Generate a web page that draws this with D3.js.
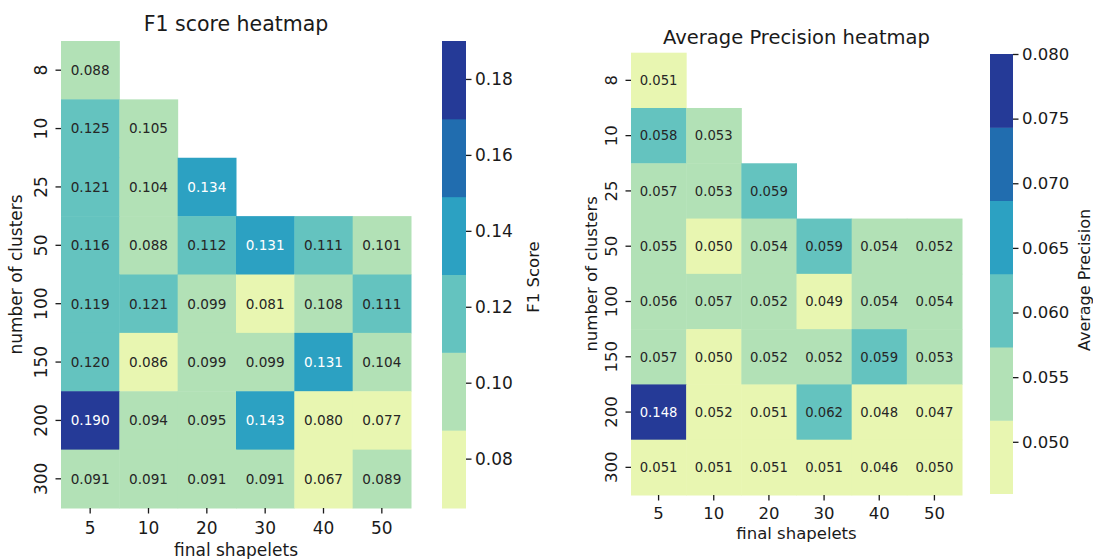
<!DOCTYPE html>
<html>
<head>
<meta charset="utf-8">
<script src="https://cdn.jsdelivr.net/npm/d3@7"></script>
<style>
  html, body { margin: 0; padding: 0; background: #fff; }
  svg { display: block; font-family: "DejaVu Sans", sans-serif; }
</style>
</head>
<body>
<svg id="chart" width="1093" height="559"></svg>
<script>
// Grid labels shared by both heatmaps
const clusterLabels = ["8", "10", "25", "50", "100", "150", "200", "300"];
const shapeletLabels = ["5", "10", "20", "30", "40", "50"];

// F1 score per (clusters, final shapelets); null = configuration not run
const f1Values = [
  [0.088, null,  null,  null,  null,  null ],
  [0.125, 0.105, null,  null,  null,  null ],
  [0.121, 0.104, 0.134, null,  null,  null ],
  [0.116, 0.088, 0.112, 0.131, 0.111, 0.101],
  [0.119, 0.121, 0.099, 0.081, 0.1078, 0.111],
  [0.120, 0.086, 0.099, 0.099, 0.131, 0.104],
  [0.190, 0.094, 0.095, 0.143, 0.080, 0.077],
  [0.091, 0.091, 0.091, 0.091, 0.067, 0.089]
];

// Average precision per (clusters, final shapelets)
const apValues = [
  [0.051, null,   null,  null,  null,  null ],
  [0.058, 0.053,  null,  null,  null,  null ],
  [0.057, 0.053,  0.059, null,  null,  null ],
  [0.055, 0.050,  0.054, 0.059, 0.054, 0.052],
  [0.056, 0.057,  0.052, 0.049, 0.054, 0.054],
  [0.057, 0.050,  0.052, 0.052, 0.059, 0.053],
  [0.148, 0.0516, 0.051, 0.062, 0.048, 0.047],
  [0.051, 0.051,  0.051, 0.051, 0.046, 0.050]
];

// Colorbar ticks
const f1Ticks = [0.08, 0.10, 0.12, 0.14, 0.16, 0.18];
const apTicks = [0.050, 0.055, 0.060, 0.065, 0.070, 0.075, 0.080];

// Six-step YlGnBu palette
const palette = ["#e8f6b1", "#b2e1b6", "#64c3bf", "#2ca1c2", "#216daf", "#253a97"];

const svg = d3.select("#chart");
const ink = "#1a1a1a";

function flat(values) {
  return values.flat().filter(v => v !== null);
}

function luminance(hex) {
  const c = d3.rgb(hex);
  const f = v => { v /= 255; return v <= 0.03928 ? v / 12.92 : Math.pow((v + 0.055) / 1.055, 2.4); };
  return 0.2126 * f(c.r) + 0.7152 * f(c.g) + 0.0722 * f(c.b);
}

function heatmap(cfg) {
  const g = svg.append("g");
  const x = d3.scaleBand().domain(shapeletLabels).range([cfg.left, cfg.right]);
  const y = d3.scaleBand().domain(clusterLabels).range([cfg.top, cfg.bottom]);
  const color = d3.scaleQuantize().domain([cfg.vmin, cfg.vmax]).range(palette);

  const cells = [];
  cfg.values.forEach((row, i) => row.forEach((v, j) => {
    if (v !== null) cells.push({ r: clusterLabels[i], c: shapeletLabels[j], v });
  }));

  g.selectAll("rect.cell").data(cells).join("rect")
    .attr("class", "cell")
    .attr("x", d => x(d.c))
    .attr("y", d => y(d.r))
    .attr("width", x.bandwidth() + 0.5)
    .attr("height", y.bandwidth() + 0.5)
    .attr("fill", d => color(d.v));

  g.selectAll("text.annot").data(cells).join("text")
    .attr("class", "annot")
    .attr("x", d => x(d.c) + x.bandwidth() / 2)
    .attr("y", d => y(d.r) + y.bandwidth() / 2)
    .attr("text-anchor", "middle")
    .attr("dy", "0.36em")
    .attr("font-size", cfg.annotSize)
    .attr("fill", d => luminance(color(d.v)) < 0.408 ? "#ffffff" : "#262626")
    .text(d => d3.format(".3f")(d.v));

  // x axis ticks and labels
  const xa = g.append("g");
  shapeletLabels.forEach(s => {
    const cx = x(s) + x.bandwidth() / 2;
    xa.append("line").attr("x1", cx).attr("x2", cx)
      .attr("y1", cfg.bottom).attr("y2", cfg.bottom + 5.5)
      .attr("stroke", ink).attr("stroke-width", 1.3);
    xa.append("text").attr("x", cx).attr("y", cfg.bottom + cfg.xLabelOff)
      .attr("text-anchor", "middle").attr("font-size", cfg.tickSize)
      .attr("fill", ink).text(s);
  });

  // y axis ticks and rotated labels
  const ya = g.append("g");
  clusterLabels.forEach(r => {
    const cy = y(r) + y.bandwidth() / 2;
    ya.append("line").attr("x1", cfg.left - 5.5).attr("x2", cfg.left)
      .attr("y1", cy).attr("y2", cy)
      .attr("stroke", ink).attr("stroke-width", 1.3);
    ya.append("text")
      .attr("transform", `translate(${cfg.left - cfg.yLabelOff},${cy}) rotate(-90)`)
      .attr("text-anchor", "middle").attr("font-size", cfg.tickSize)
      .attr("fill", ink).text(r);
  });

  const midX = (cfg.left + cfg.right) / 2;
  const midY = (cfg.top + cfg.bottom) / 2;

  g.append("text").attr("x", midX).attr("y", cfg.titleY)
    .attr("text-anchor", "middle").attr("font-size", cfg.titleSize)
    .attr("fill", ink).text(cfg.title);

  g.append("text").attr("x", midX).attr("y", cfg.xTitleY)
    .attr("text-anchor", "middle").attr("font-size", cfg.tickSize)
    .attr("fill", ink).text("final shapelets");

  g.append("text")
    .attr("transform", `translate(${cfg.yTitleX},${midY}) rotate(-90)`)
    .attr("text-anchor", "middle").attr("font-size", cfg.tickSize)
    .attr("fill", ink).text("number of clusters");

  // discrete colorbar
  const cb = svg.append("g");
  const cbY = d3.scaleLinear().domain([cfg.vmin, cfg.vmax]).range([cfg.cbBottom, cfg.cbTop]);
  const steps = color.thresholds();
  const edges = [cfg.vmin, ...steps, cfg.vmax];
  cb.selectAll("rect").data(palette).join("rect")
    .attr("x", cfg.cbLeft)
    .attr("width", cfg.cbWidth)
    .attr("y", (d, i) => cbY(edges[i + 1]))
    .attr("height", (d, i) => cbY(edges[i]) - cbY(edges[i + 1]) + 0.5)
    .attr("fill", d => d);

  const axis = d3.axisRight(cbY).tickValues(cfg.ticks)
    .tickFormat(d3.format(cfg.tickFormat)).tickSize(5.5).tickPadding(3.5);
  const ag = cb.append("g")
    .attr("transform", `translate(${cfg.cbLeft + cfg.cbWidth},0)`)
    .call(axis);
  ag.select(".domain").remove();
  ag.selectAll("line").attr("stroke", ink).attr("stroke-width", 1.3);
  ag.selectAll("text").attr("font-size", cfg.tickSize)
    .attr("font-family", "DejaVu Sans, sans-serif").attr("fill", ink);

  cb.append("text")
    .attr("transform", `translate(${cfg.cbLabelX},${cfg.cbLabelY}) rotate(-90)`)
    .attr("text-anchor", "middle").attr("font-size", cfg.cbLabelSize)
    .attr("fill", ink).text(cfg.cbLabel);
}

const f1 = flat(f1Values);
heatmap({
  values: f1Values, vmin: d3.min(f1), vmax: d3.max(f1),
  left: 61, right: 411, top: 41, bottom: 508,
  title: "F1 score heatmap", titleY: 31, titleSize: 20.5,
  tickSize: 17, annotSize: 13.6,
  xLabelOff: 25.5, yLabelOff: 14, xTitleY: 556, yTitleX: 22,
  cbLeft: 442, cbWidth: 24, cbTop: 41, cbBottom: 508,
  ticks: f1Ticks, tickFormat: ".2f",
  cbLabel: "F1 Score", cbLabelX: 538.5, cbLabelY: 277, cbLabelSize: 16.5
});

const ap = flat(apValues);
heatmap({
  values: apValues, vmin: d3.min(ap), vmax: 0.080,
  left: 631, right: 962, top: 52.7, bottom: 495,
  title: "Average Precision heatmap", titleY: 44, titleSize: 19.5,
  tickSize: 16.5, annotSize: 13.2,
  xLabelOff: 23.5, yLabelOff: 14, xTitleY: 539, yTitleX: 597,
  cbLeft: 990, cbWidth: 23, cbTop: 54, cbBottom: 493.5,
  ticks: apTicks, tickFormat: ".3f",
  cbLabel: "Average Precision", cbLabelX: 1090, cbLabelY: 280, cbLabelSize: 16
});
</script>
</body>
</html>
